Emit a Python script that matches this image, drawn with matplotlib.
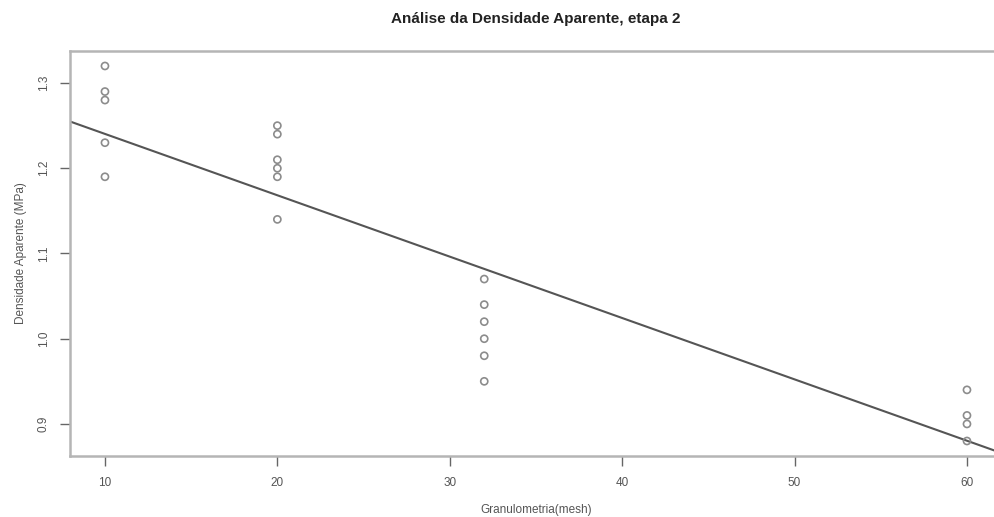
import numpy as np
import matplotlib
matplotlib.use("Agg")
import matplotlib.pyplot as plt

# granulometry (mesh) and apparent density
mesh_10 = [1.32, 1.29, 1.28, 1.23, 1.19]
mesh_20 = [1.25, 1.24, 1.21, 1.20, 1.19, 1.14]
mesh_32 = [1.07, 1.04, 1.02, 1.00, 0.98, 0.95]
mesh_60 = [0.94, 0.91, 0.90, 0.88]
mesh_values = [10, 20, 32, 60]

# fitted line (intercept, slope)
line_coef = [1.3123, -0.0072]

xticks = [10, 20, 30, 40, 50, 60]
yticks = [0.9, 1.0, 1.1, 1.2, 1.3]

plt.rcParams['font.family'] = ['Liberation Sans', 'DejaVu Sans']

x = []
y = []
for m, vals in zip(mesh_values, [mesh_10, mesh_20, mesh_32, mesh_60]):
    x += [m] * len(vals)
    y += vals
x = np.array(x)
y = np.array(y)

fig = plt.figure(figsize=(9.94, 5.17), dpi=100)
ax = fig.add_axes([0.0709, 0.118, 0.9366, 0.7834])

ax.scatter(x, y, s=26, facecolors='none', edgecolors='#8c8c8c', linewidths=1.2, zorder=3)

xl = (8, 62)
xs = np.array(xl)
ax.plot(xs, line_coef[0] + line_coef[1] * xs, color='#555555', lw=1.5, zorder=2)

ax.set_xlim(*xl)
ax.set_ylim(0.8624, 1.3376)
ax.set_xticks(xticks)
ax.set_yticks(yticks)
ax.set_xticklabels([str(t) for t in xticks])
ax.set_yticklabels(['%.1f' % t for t in yticks], rotation=90, va='center')

for s in ax.spines.values():
    s.set_color('#b5b5b5')
    s.set_linewidth(1.8)
ax.spines['right'].set_visible(False)

ax.tick_params(direction='out', length=7, width=1, color='#666666',
               labelcolor='#555555', labelsize=8.5, pad=8)

ax.set_title('Análise da Densidade Aparente, etapa 2', fontsize=11,
             fontweight='bold', color='#222222', pad=20)
ax.set_xlabel('Granulometria(mesh)', fontsize=8.5, color='#555555', labelpad=11)
ax.set_ylabel('Densidade Aparente (MPa)', fontsize=8.5, color='#555555', labelpad=8)

fig.savefig('out.png', dpi=100)
